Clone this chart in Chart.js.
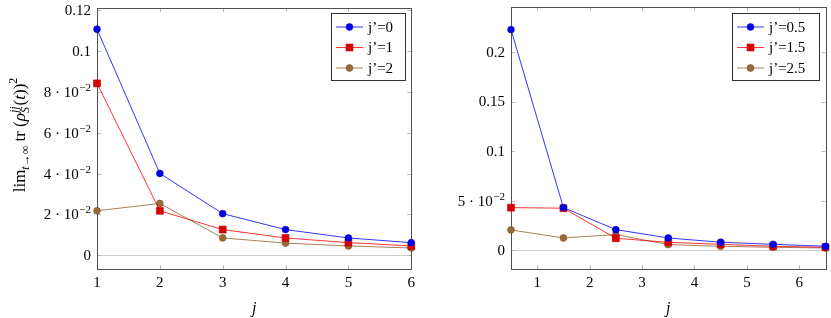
<!DOCTYPE html>
<html>
<head>
<meta charset="utf-8">
<script src="https://cdn.jsdelivr.net/npm/chart.js@4.4.0/dist/chart.umd.min.js"></script>
<style>
  body { margin: 0; background: #fff; width: 831px; height: 318px; position: relative; overflow: hidden; }
  .box { position: absolute; top: 0; height: 318px; }
</style>
</head>
<body>
<div class="box" style="left:0;width:420px"><canvas id="left" width="420" height="318"></canvas></div>
<div class="box" style="left:420px;width:411px"><canvas id="right" width="411" height="318"></canvas></div>
<script>
const FONT = "'Liberation Serif', 'DejaVu Serif', serif";
const TXT = 15;   // tick + legend text size

// Left panel: integer j'
const leftJ = [1, 2, 3, 4, 5, 6];
const leftJp0 = [0.1107, 0.0401, 0.0204, 0.0126, 0.0085, 0.0062];
const leftJp1 = [0.0842, 0.0218, 0.0126, 0.0085, 0.0062, 0.0046];
const leftJp2 = [0.0218, 0.0254, 0.0085, 0.0060, 0.0046, 0.0036];
const leftLabels = ['j’=0', 'j’=1', 'j’=2'];
const leftXTicks = [1, 2, 3, 4, 5, 6];
const leftYTicks = [0, 0.02, 0.04, 0.06, 0.08, 0.1, 0.12];

// Right panel: half-integer j'
const rightJ = [0.5, 1.5, 2.5, 3.5, 4.5, 5.5, 6.5];
const rightJp05 = [0.2225, 0.0430, 0.0208, 0.0124, 0.0081, 0.0060, 0.0040];
const rightJp15 = [0.0430, 0.0424, 0.0121, 0.0080, 0.0060, 0.0040, 0.0030];
const rightJp25 = [0.0205, 0.0124, 0.0158, 0.0057, 0.0040, 0.0030, 0.0023];
const rightLabels = ['j’=0.5', 'j’=1.5', 'j’=2.5'];
const rightXTicks = [1, 2, 3, 4, 5, 6];
const rightYTicks = [0, 0.05, 0.1, 0.15, 0.2];

const styles = [
  { line: '#0000ff', fill: '#0000ee', edge: '#0000bb', shape: 'circle', r: 3.4 },
  { line: '#ff0000', fill: '#dd0000', edge: '#bb0000', shape: 'rect', r: 4.9 },
  { line: '#8f6030', fill: '#9a6a38', edge: '#74502a', shape: 'circle', r: 3.4 }
];

function makeSet(label, xs, ys, st) {
  return {
    label: label,
    data: xs.map((x, i) => ({ x: x, y: ys[i] })),
    borderColor: st.line, borderWidth: 0.8,
    pointStyle: st.shape, pointRadius: st.r,
    pointBackgroundColor: st.fill, pointBorderColor: st.edge, pointBorderWidth: 0.6,
    tension: 0, clip: false
  };
}

// y tick text: [base, exponent]
function sciFmt(v) {
  v = Math.round(v * 1000) / 1000;
  if (v === 0) return ['0'];
  if (v >= 0.1) return [String(v)];
  return [Math.round(v * 100) + ' · 10', '−2'];
}

function drawMarker(ctx, st, x, y) {
  ctx.fillStyle = st.fill; ctx.strokeStyle = st.edge; ctx.lineWidth = 0.6;
  ctx.beginPath();
  if (st.shape === 'rect') {
    const h = st.r * Math.SQRT1_2;
    ctx.rect(x - h, y - h, 2 * h, 2 * h);
  } else {
    ctx.arc(x, y, st.r, 0, Math.PI * 2);
  }
  ctx.fill(); ctx.stroke();
}

function drawYTitle(ctx, cx, cy) {
  const segs = [
    { t: 'lim', s: 17 },
    { t: 't', s: 12, it: true, dy: 4 },
    { t: '→∞', s: 12, dy: 4 },
    { t: ' tr (', s: 17 },
    { t: 'ρ', s: 17, it: true },
    { t: 'jj', s: 12, it: true, dy: -7, stack: 'S' },
    { t: '(', s: 17 },
    { t: 't', s: 17, it: true },
    { t: '))', s: 17 },
    { t: '2', s: 12, dy: -8 }
  ];
  const font = sg => (sg.it ? 'italic ' : '') + sg.s + 'px ' + FONT;
  let total = 0;
  segs.forEach(sg => {
    ctx.font = font(sg);
    let w = ctx.measureText(sg.t).width;
    if (sg.stack) w = Math.max(w, ctx.measureText(sg.stack).width);
    sg.w = w + (sg.stack ? 1 : 0);
    total += sg.w;
  });
  ctx.save();
  ctx.translate(cx, cy);
  ctx.rotate(-Math.PI / 2);
  ctx.fillStyle = '#000';
  ctx.textBaseline = 'alphabetic';
  ctx.textAlign = 'left';
  let x = -total / 2;
  segs.forEach(sg => {
    ctx.font = font(sg);
    ctx.fillText(sg.t, x, sg.dy || 0);
    if (sg.stack) ctx.fillText(sg.stack, x, 4);
    x += sg.w;
  });
  ctx.restore();
}

function decor(opt) {
  return {
    id: 'decor',
    beforeDatasetsDraw(chart) {
      const { ctx, chartArea: a, scales: { x, y } } = chart;
      ctx.save();
      ctx.strokeStyle = '#a8a8a8'; ctx.lineWidth = 0.8;
      ctx.beginPath();
      x.ticks.forEach(t => {
        const px = Math.round(x.getPixelForValue(t.value)) + 0.5;
        ctx.moveTo(px, a.bottom); ctx.lineTo(px, a.bottom - 4);
        ctx.moveTo(px, a.top); ctx.lineTo(px, a.top + 4);
      });
      y.ticks.forEach(t => {
        const py = Math.round(y.getPixelForValue(t.value)) + 0.5;
        ctx.moveTo(a.left, py); ctx.lineTo(a.left + 4, py);
        ctx.moveTo(a.right, py); ctx.lineTo(a.right - 4, py);
      });
      ctx.stroke();
      ctx.strokeStyle = '#505050'; ctx.lineWidth = 1;
      ctx.strokeRect(Math.round(a.left) + 0.5, Math.round(a.top) + 0.5,
        Math.round(a.right - a.left), Math.round(a.bottom - a.top));
      // y tick labels
      ctx.fillStyle = '#000';
      ctx.textBaseline = 'middle';
      y.ticks.forEach(t => {
        const py = y.getPixelForValue(t.value);
        const parts = opt.fmt(t.value);
        ctx.font = TXT + 'px ' + FONT;
        const w0 = ctx.measureText(parts[0]).width;
        let w1 = 0;
        if (parts[1]) { ctx.font = '11px ' + FONT; w1 = ctx.measureText(parts[1]).width + 0.5; }
        const right = a.left - 6;
        ctx.font = TXT + 'px ' + FONT;
        ctx.textAlign = 'left';
        ctx.fillText(parts[0], right - w0 - w1, py + 1);
        if (parts[1]) {
          ctx.font = '11px ' + FONT;
          ctx.fillText(parts[1], right - w1 + 0.5, py - 4);
        }
      });
      ctx.restore();
    },
    afterDraw(chart) {
      const ctx = chart.ctx;
      ctx.save();
      const L = opt.legend;
      ctx.fillStyle = '#fff';
      ctx.fillRect(L.x, L.y, L.w, L.h);
      ctx.strokeStyle = '#333'; ctx.lineWidth = 1;
      ctx.strokeRect(L.x + 0.5, L.y + 0.5, L.w, L.h);
      chart.data.datasets.forEach((ds, i) => {
        const st = styles[i];
        const ry = L.y + 14 + i * 20.5;
        ctx.strokeStyle = st.line; ctx.lineWidth = 0.8;
        ctx.beginPath(); ctx.moveTo(L.x + 5, ry); ctx.lineTo(L.x + 32, ry); ctx.stroke();
        drawMarker(ctx, st, L.x + 18.5, ry);
        ctx.fillStyle = '#000';
        ctx.font = TXT + 'px ' + FONT;
        ctx.textBaseline = 'middle'; ctx.textAlign = 'left';
        ctx.fillText(ds.label, L.x + 37, ry + 1);
      });
      if (opt.title) drawYTitle(ctx, 25, 135);
      ctx.restore();
    }
  };
}

function makeChart(id, xs, sets, labels, xMin, xMax, xTicks, yMin, yMax, yTicks, opt) {
  return new Chart(document.getElementById(id), {
    type: 'line',
    data: { datasets: sets.map((ys, i) => makeSet(labels[i], xs, ys, styles[i])) },
    options: {
      responsive: false, animation: false, devicePixelRatio: 1,
      layout: { padding: opt.pad },
      plugins: { legend: { display: false }, tooltip: { enabled: false } },
      scales: {
        x: {
          type: 'linear', min: xMin, max: xMax,
          afterBuildTicks: s => { s.ticks = xTicks.map(v => ({ value: v })); },
          afterFit: s => { s.height = 49; },
          grid: { display: false, drawTicks: false },
          border: { display: false },
          ticks: { color: '#000', padding: 5, font: { family: FONT, size: TXT }, callback: v => String(v) },
          title: { display: true, text: 'j', color: '#000', padding: { top: 2, bottom: 0 },
                   font: { family: FONT, size: 16, style: 'italic' } }
        },
        y: {
          min: yMin, max: yMax,
          afterBuildTicks: s => { s.ticks = yTicks.map(v => ({ value: v })); },
          afterFit: s => { s.width = opt.yw; },
          grid: { drawTicks: false, lineWidth: 1,
                  color: c => (c.tick && Math.abs(c.tick.value) < 1e-9) ? '#cfcfcf' : 'rgba(0,0,0,0)' },
          border: { display: false },
          ticks: { display: false }
        }
      }
    },
    plugins: [decor(opt)]
  });
}

makeChart('left', leftJ, [leftJp0, leftJp1, leftJp2], leftLabels,
  1, 6, leftXTicks, -0.0067, 0.1211, leftYTicks,
  { pad: { left: 0, right: 8, top: 8, bottom: 0 }, yw: 97, fmt: sciFmt, title: true,
    legend: { x: 331, y: 13, w: 74, h: 67 } });

makeChart('right', rightJ, [rightJp05, rightJp15, rightJp25], rightLabels,
  0.5, 6.5, rightXTicks, -0.0189, 0.2453, rightYTicks,
  { pad: { left: 0, right: 5, top: 7, bottom: 0 }, yw: 91, fmt: sciFmt, title: false,
    legend: { x: 312, y: 13, w: 87, h: 67 } });
</script>
</body>
</html>
